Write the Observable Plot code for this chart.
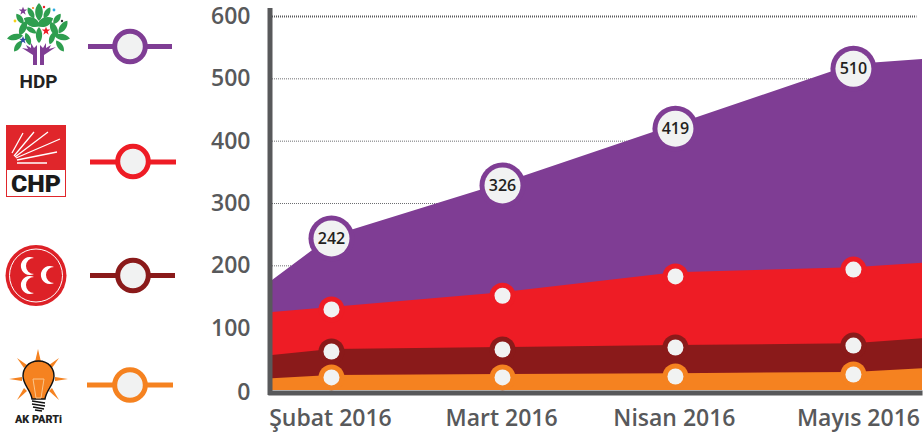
<!DOCTYPE html>
<html>
<head>
<meta charset="utf-8">
<script src="https://cdn.jsdelivr.net/npm/d3@7"></script>
<script src="https://cdn.jsdelivr.net/npm/@observablehq/plot@0.6"></script>
<style>
html,body{margin:0;padding:0;background:#fff;overflow:hidden}
#wrap{position:relative;width:923px;height:433px}
#chart,#legend{position:absolute;left:0;top:0}
#chart svg{display:block}
</style>
</head>
<body>
<div id="wrap">
<div id="chart"></div>
<svg id="legend" width="270" height="433" viewBox="0 0 270 433" xmlns="http://www.w3.org/2000/svg">
  <defs>
    <path id="leaf" d="M0,-9 C6,-4 6,4 0,9 C-6,4 -6,-4 0,-9Z" fill="#2E9E4F"/>
    <path id="star" d="M0,-3 L.8,-1 L3,-1 L1.2,.4 L1.9,2.6 L0,1.3 L-1.9,2.6 L-1.2,.4 L-3,-1 L-.8,-1Z"/>
  </defs>
  <!-- HDP -->
  <g>
    <use href="#leaf" transform="translate(39,12) scale(.85,1)"/>
    <use href="#leaf" transform="translate(31,13) rotate(-30) scale(.6,.7)"/>
    <use href="#leaf" transform="translate(47,13) rotate(30) scale(.6,.7)"/>
    <use href="#leaf" transform="translate(20,19) rotate(-35) scale(.6,.7)"/>
    <use href="#leaf" transform="translate(57,19) rotate(35) scale(.6,.7)"/>
    <use href="#leaf" transform="translate(32,22) rotate(-65) scale(1,1)"/>
    <use href="#leaf" transform="translate(45,22) rotate(65) scale(1,1)"/>
    <use href="#leaf" transform="translate(23,28) rotate(25) scale(.75,.9)"/>
    <use href="#leaf" transform="translate(39,35) scale(.7,.9)"/>
    <use href="#leaf" transform="translate(54,29) rotate(-25) scale(.75,.9)"/>
    <use href="#leaf" transform="translate(63,27) rotate(35) scale(.7,.85)"/>
    <use href="#leaf" transform="translate(15,37) rotate(80) scale(.7,.9)"/>
    <use href="#leaf" transform="translate(62,37) rotate(-80) scale(.7,.9)"/>
    <use href="#leaf" transform="translate(31,30) rotate(-60) scale(.55,.7)"/>
    <use href="#leaf" transform="translate(28,39) rotate(-20) scale(.6,.75)"/>
    <use href="#leaf" transform="translate(52,38) rotate(20) scale(.6,.75)"/>
    <use href="#leaf" transform="translate(18,46) rotate(35) scale(.6,.75)"/>
    <use href="#leaf" transform="translate(60,46) rotate(-35) scale(.6,.75)"/>
    <path d="M33,65 L33,55 L22,48 L28,49 L26,45 L31,48 L31,43 L34,48 L37,45 L37,65Z M40,65 L40,45 L43,48 L46,43 L46,48 L51,45 L49,49 L56,47 L44,55 L44,65Z" fill="#7F3D94"/>
    <use href="#star" transform="translate(23,11) scale(1.4)" fill="#7F3D94"/>
    <use href="#star" transform="translate(46,31) scale(1.4)" fill="#EE1C25"/>
    <use href="#star" transform="translate(23,40) scale(1.3)" fill="#2F4FA2"/>
    <circle cx="54" cy="10" r="1.4" fill="#29ABE2"/><circle cx="44" cy="7" r="1.2" fill="#EE1C25"/>
    <circle cx="33" cy="8" r="1.1" fill="#F58220"/>
    <circle cx="15" cy="21" r="1.4" fill="#F7D117"/><circle cx="62" cy="21" r="1.2" fill="#333"/>
    <text x="38.5" y="88" text-anchor="middle" font-family="Roboto" font-weight="700" font-size="18" fill="#222" textLength="38" lengthAdjust="spacingAndGlyphs">HDP</text>
  </g>
  <!-- CHP -->
  <g>
    <rect x="6.5" y="125.5" width="59" height="71" fill="#fff" stroke="#E0262B"/>
    <rect x="6" y="125" width="60" height="45" fill="#E0262B"/>
    <g stroke="#fff" stroke-width="1.3" fill="none">
      <path d="M12,153 L23,133 M14,156 L34,132 M15,157 L48,132 M16,158 L60,139 M17,160 L57,152 M17,163 L47,163"/>
    </g>
    <text x="36" y="192" text-anchor="middle" font-family="Roboto" font-weight="900" font-size="24" fill="#1a1a1a" textLength="50" lengthAdjust="spacingAndGlyphs">CHP</text>
  </g>
  <!-- MHP -->
  <g>
    <circle cx="36" cy="275.5" r="30.5" fill="#DD2127"/>
    <circle cx="36" cy="275.5" r="26.5" fill="none" stroke="#fff" stroke-width="1"/>
    <g fill="#fff">
      <path d="M34,258 a9,9 0 1 0 0,16 a7.6,7.6 0 1 1 0,-16Z"/>
      <path d="M34,277 a9,9 0 1 0 0,16 a7.6,7.6 0 1 1 0,-16Z"/>
      <path d="M54,267 a9,9 0 1 0 0,16 a7.6,7.6 0 1 1 0,-16Z"/>
    </g>
  </g>
  <!-- AK -->
  <g>
    <g fill="#F58220">
      <path d="M38,349 L41,362 L35,362Z"/>
      <path d="M9,379 L22,377 L22,381Z"/>
      <path d="M68,379 L55,377 L55,381Z"/>
      <path d="M17,358 L27,365 L24,368Z"/>
      <path d="M59,358 L49,365 L52,368Z"/>
      <path d="M17,400 L27,391 L24,388Z"/>
      <path d="M59,400 L49,391 L52,388Z"/>
    </g>
    <path d="M38.5,361 C27,361 23,370 23,376 C23,385 31,390 32,399 L45,399 C46,390 54,385 54,376 C54,370 50,361 38.5,361Z" fill="#F58220" stroke="#111" stroke-width="1.4"/>
    <path d="M33,379 L44,379 L41,398 L36,398Z" fill="none" stroke="#FBC58A" stroke-width="1"/>
    <path d="M32,401 L45,403 M32,404 L45,406 M33,407 L44,409 M35,410 L42,411" stroke="#111" stroke-width="1.6" fill="none"/>
    <text x="38.5" y="423" text-anchor="middle" font-family="Roboto" font-weight="900" font-size="10" fill="#222" textLength="47" lengthAdjust="spacingAndGlyphs">AK PARTi</text>
  </g>
  <!-- swatches -->
  <g fill="#F1F2F2" stroke-width="5">
    <path d="M88,46.5H172" stroke="#7F3D94"/><circle cx="130" cy="46.5" r="15.3" stroke="#7F3D94"/>
    <path d="M90,162H176" stroke="#EE1C25"/><circle cx="133" cy="161.5" r="15.3" stroke="#EE1C25"/>
    <path d="M90,275.5H175" stroke="#8A1A1A"/><circle cx="133" cy="275.5" r="15.3" stroke="#8A1A1A"/>
    <path d="M87,385H173" stroke="#F58220"/><circle cx="130" cy="385" r="15.3" stroke="#F58220"/>
  </g>
</svg>
</div>
<script>
const months = ["Şubat 2016", "Mart 2016", "Nisan 2016", "Mayıs 2016"];
const monthPos = [0, 0.983, 1.977, 3];
const edgePos = [-0.339, 0, 0.983, 1.977, 3, 3.397];
const hdpTop = [176.5, 247, 332, 426, 523, 531];
const chpTop = [125, 133, 157, 189, 197, 204];
const mhpTop = [56, 65.8, 69, 72, 75, 83];
const akTop = [19, 24, 25.7, 27, 29, 35];
const hdpDot = [244, 329, 420, 516];
const chpDot = [130, 152, 183, 194];
const mhpDot = [62.6, 65.8, 69, 72];
const akDot = [21, 21, 22.5, 25.7];
const hdpLabels = ["242", "326", "419", "510"];
const yTicks = [100, 200, 300, 400, 500, 600];
const gridTicks = [100, 200, 300, 400, 500];
const topGrid = [600];
const zeroTick = [0];

const PURPLE = "#7F3D94", RED = "#EE1C25", DARK = "#8A1A1A", ORANGE = "#F58220", INK = "#58595B", DOT = "#F1F2F2";
const areaRows = a => edgePos.map((x, i) => ({x, y: a[i]}));
const dotRows = a => monthPos.map((x, i) => ({x, y: a[i], label: hdpLabels[i], month: months[i]}));
const area = (a, fill) => Plot.areaY(areaRows(a), {x: "x", y1: 0, y2: "y", fill, curve: "linear"});
const ring = (a, fill, rOuter, rInner) => [
  Plot.dot(dotRows(a), {x: "x", y: "y", r: rOuter, fill, stroke: "none"}),
  Plot.dot(dotRows(a), {x: "x", y: "y", r: rInner, fill: DOT, stroke: "none"})
];
const axisFont = {fontSize: 23, fontWeight: 600, fill: INK, tickSize: 0, label: null};

const chart = Plot.plot({
  width: 923, height: 433,
  marginLeft: 272, marginRight: 1, marginTop: 16, marginBottom: 43,
  style: {fontFamily: "'Open Sans', sans-serif", background: "transparent", overflow: "visible"},
  x: {type: "linear", domain: [-0.339, 3.397]},
  y: {domain: [0, 600]},
  marks: [
    Plot.ruleY(gridTicks, {x1: -0.339, x2: 3.365, stroke: "#6D6E71", strokeWidth: 1, strokeDasharray: "1,1"}),
    Plot.ruleY(topGrid, {x1: -0.339, x2: 3.365, stroke: INK, strokeWidth: 2, strokeDasharray: "1,1"}),
    area(hdpTop, PURPLE), area(chpTop, RED), area(mhpTop, DARK), area(akTop, ORANGE),
    ...ring(hdpDot, PURPLE, 23, 18),
    ...ring(chpDot, RED, 13, 8),
    ...ring(mhpDot, DARK, 13, 8),
    ...ring(akDot, ORANGE, 13, 8),
    Plot.text(dotRows(hdpDot), {x: "x", y: "y", text: "label", fontSize: 16, fontWeight: 600, fill: "#231F20"}),
    Plot.ruleX([-0.339], {y1: -8, y2: 613, stroke: INK, strokeWidth: 5, dx: -2.5}),
    Plot.ruleY([0], {x1: -0.36, x2: 3.4, stroke: INK, strokeWidth: 5, dy: 2.5}),
    Plot.axisY({...axisFont, ticks: yTicks, anchor: "left", tickPadding: 22}),
    Plot.axisY({...axisFont, ticks: zeroTick, anchor: "left", tickPadding: 22, dy: 2}),
    Plot.axisX({...axisFont, ticks: monthPos.slice(0, 3), tickFormat: (d, i) => months[i], tickPadding: 19, dx: -1}),
    Plot.axisX({...axisFont, ticks: monthPos.slice(3), tickFormat: () => months[3], tickPadding: 19, dx: 5})
  ]
});
document.getElementById("chart").appendChild(chart);
</script>
</body>
</html>
